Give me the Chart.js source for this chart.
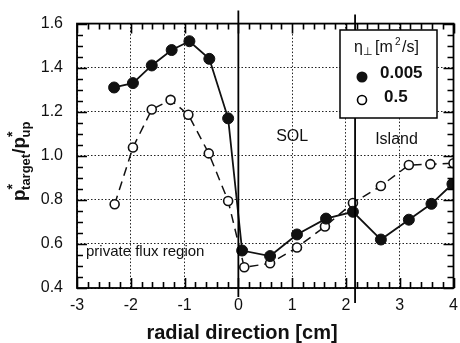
<!DOCTYPE html>
<html>
<head>
<meta charset="utf-8">
<script src="https://cdn.jsdelivr.net/npm/chart.js@4"></script>
<style>
  body { margin: 0; background: #fff; }
  #wrap { width: 460px; height: 343px; }
</style>
</head>
<body>
<div id="wrap"><canvas id="chart" width="460" height="343"></canvas></div>
<script>
// radial positions (cm)
const xLowEta = [-2.31, -1.96, -1.61, -1.24, -0.91, -0.54, -0.19, 0.07, 0.59, 1.09, 1.63, 2.13, 2.65, 3.17, 3.59, 3.98];
const yLowEta = [1.31, 1.33, 1.41, 1.48, 1.52, 1.44, 1.17, 0.57, 0.545, 0.643, 0.715, 0.746, 0.62, 0.71, 0.782, 0.872];
const xHighEta = [-2.30, -1.96, -1.61, -1.26, -0.93, -0.55, -0.19, 0.11, 0.59, 1.09, 1.61, 2.13, 2.65, 3.17, 3.57, 4.0];
const yHighEta = [0.78, 1.038, 1.21, 1.254, 1.186, 1.011, 0.795, 0.494, 0.512, 0.584, 0.679, 0.786, 0.863, 0.958, 0.962, 0.966];
const separatrices = [0, 2.17];
const regionLabels = [
  { text: 'SOL', x: 1.0, y: 1.088 },
  { text: 'Island', x: 2.94, y: 1.074 },
];

const font = 'Liberation Sans, Arial, sans-serif';

const pts = (xs, ys) => xs.map((x, i) => ({ x: x, y: ys[i] }));

// frame, inward ticks, separatrix lines, labels, legend box
const decor = {
  id: 'decor',
  afterDatasetsDraw(chart) {
    const { ctx, chartArea: a, scales: { x, y } } = chart;
    ctx.save();
    ctx.setLineDash([]);
    ctx.strokeStyle = '#000';
    ctx.lineWidth = 1.8;
    ctx.strokeRect(a.left, a.top, a.right - a.left, a.bottom - a.top);

    ctx.lineWidth = 1.6;
    ctx.beginPath();
    for (let i = 0; i <= 35; i++) {
      const px = Math.round(x.getPixelForValue(-3 + i * 0.2)) + 0.5;
      const len = i % 5 === 0 ? 10 : 6;
      ctx.moveTo(px, a.bottom); ctx.lineTo(px, a.bottom - len);
      ctx.moveTo(px, a.top); ctx.lineTo(px, a.top + len);
    }
    for (let i = 0; i <= 24; i++) {
      const py = Math.round(y.getPixelForValue(0.4 + i * 0.05)) + 0.5;
      const len = i % 4 === 0 ? 10 : 6;
      ctx.moveTo(a.left, py); ctx.lineTo(a.left + len, py);
      ctx.moveTo(a.right, py); ctx.lineTo(a.right - len, py);
    }
    ctx.stroke();

    ctx.lineWidth = 1.8;
    separatrices.forEach((s, i) => {
      const px = x.getPixelForValue(s);
      ctx.beginPath();
      ctx.moveTo(px, a.top - (i === 0 ? 13 : 9));
      ctx.lineTo(px, a.bottom + (i === 0 ? 9 : 15));
      ctx.stroke();
    });

    ctx.fillStyle = '#111';
    ctx.textAlign = 'center';
    ctx.textBaseline = 'middle';
    ctx.font = '16px ' + font;
    regionLabels.forEach(l => ctx.fillText(l.text, x.getPixelForValue(l.x), y.getPixelForValue(l.y)));
    ctx.textAlign = 'left';
    ctx.font = '15px ' + font;
    ctx.fillText('private flux region', 86, 252);

    // legend
    const lx = 340, ly = 30, lw = 97, lh = 88;
    ctx.fillStyle = '#fff';
    ctx.fillRect(lx, ly, lw, lh);
    ctx.lineWidth = 1.5;
    ctx.strokeRect(lx, ly, lw, lh);
    ctx.fillStyle = '#111';
    ctx.font = '16px ' + font;
    ctx.textAlign = 'left';
    ctx.fillText('η', 354, 48);
    ctx.font = '11px ' + font;
    ctx.fillText('⊥', 363, 52);
    ctx.font = '16px ' + font;
    ctx.fillText('[m', 375, 48);
    ctx.font = '10px ' + font;
    ctx.fillText('2', 395, 42);
    ctx.font = '16px ' + font;
    ctx.fillText('/s]', 402, 48);
    ctx.beginPath();
    ctx.arc(362, 77, 5.5, 0, Math.PI * 2);
    ctx.fill();
    ctx.beginPath();
    ctx.arc(362, 100, 4.5, 0, Math.PI * 2);
    ctx.fillStyle = '#fff';
    ctx.fill();
    ctx.lineWidth = 1.6;
    ctx.stroke();
    ctx.fillStyle = '#111';
    ctx.font = 'bold 17px ' + font;
    ctx.fillText('0.005', 380, 73);
    ctx.fillText('0.5', 384, 97);

    // axis titles
    ctx.font = 'bold 20px ' + font;
    ctx.textAlign = 'center';
    ctx.fillText('radial direction [cm]', 242, 333);

    ctx.translate(25, 148);
    ctx.rotate(-Math.PI / 2);
    ctx.textAlign = 'left';
    ctx.textBaseline = 'alphabetic';
    let cx = -53;
    const part = (t, f, dy) => {
      ctx.font = f;
      ctx.fillText(t, cx, dy);
      cx += ctx.measureText(t).width;
    };
    part('p', 'bold 19px ' + font, 0);
    part('*', 'bold 14px ' + font, -8);
    cx -= 6;
    part('target', 'bold 13px ' + font, 5);
    part('/', 'bold 19px ' + font, 0);
    part('p', 'bold 19px ' + font, 0);
    part('*', 'bold 14px ' + font, -8);
    cx -= 6;
    part('up', 'bold 13px ' + font, 5);
    ctx.restore();
  }
};

new Chart(document.getElementById('chart'), {
  type: 'scatter',
  data: {
    datasets: [{
      label: '0.005',
      data: pts(xLowEta, yLowEta),
      showLine: true,
      borderColor: '#111',
      backgroundColor: '#111',
      borderWidth: 1.8,
      pointRadius: 5.5,
      pointBorderWidth: 1,
      pointBorderColor: '#111',
      pointBackgroundColor: '#111'
    }, {
      label: '0.5',
      data: pts(xHighEta, yHighEta),
      showLine: true,
      borderColor: '#111',
      borderWidth: 1.5,
      borderDash: [9, 6],
      pointRadius: 4.5,
      pointBorderWidth: 1.6,
      pointBorderColor: '#111',
      pointBackgroundColor: '#fff'
    }]
  },
  options: {
    responsive: false,
    animation: false,
    layout: { padding: { top: 21, right: 0, left: 0, bottom: 0 } },
    plugins: { legend: { display: false }, tooltip: { enabled: false } },
    scales: {
      x: {
        type: 'linear', min: -3, max: 4,
        afterFit: s => { s.height = 55; s.paddingRight = 6; },
        ticks: { stepSize: 1, padding: 8, color: '#111', font: { family: font, size: 16 } },
        grid: { color: '#222', lineWidth: 1, drawTicks: false },
        border: { display: false, dash: [1.5, 2] }
      },
      y: {
        type: 'linear', min: 0.4, max: 1.6,
        afterFit: s => { s.width = 77; },
        ticks: { stepSize: 0.2, padding: 14, color: '#111', font: { family: font, size: 16 } },
        grid: { color: '#222', lineWidth: 1, drawTicks: false },
        border: { display: false, dash: [1.5, 2] }
      }
    }
  },
  plugins: [decor]
});
</script>
</body>
</html>
